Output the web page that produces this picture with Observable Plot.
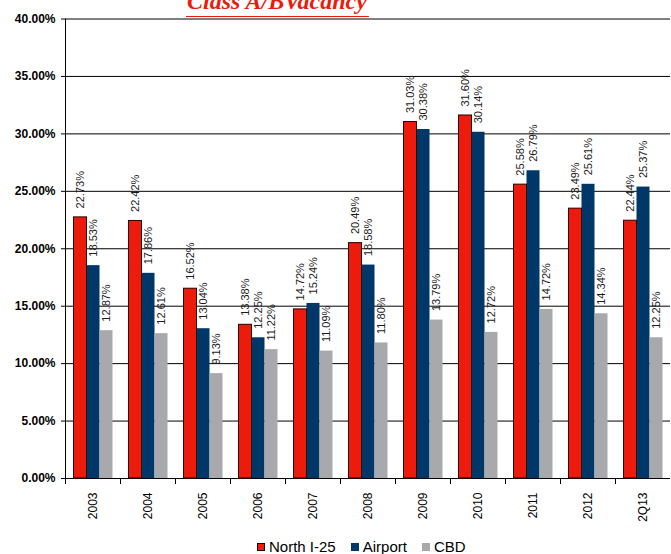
<!DOCTYPE html>
<html>
<head>
<meta charset="utf-8">
<script src="https://cdn.jsdelivr.net/npm/d3@7"></script>
<script src="https://cdn.jsdelivr.net/npm/@observablehq/plot@0.6"></script>
<style>
  html, body { margin: 0; padding: 0; background: #fff; }
  #wrap { position: relative; width: 671px; height: 554px; overflow: hidden; font-family: "Liberation Sans", Arial, sans-serif; }
  #title { position: absolute; left: 0; width: 554px; top: -11px; text-align: center; font-family: "Liberation Serif", "Times New Roman", serif; font-weight: bold; font-style: italic; font-size: 24px; line-height: 24px; color: #EC1B0B; white-space: nowrap; }
  #uline { position: absolute; left: 186px; width: 183px; top: 15.5px; height: 1.5px; background: #EC1B0B; }
  #chart { position: absolute; left: 0; top: 0; }
  #legend { position: absolute; left: 257px; top: 539px; display: flex; align-items: center; font-size: 15px; line-height: 15px; color: #000; white-space: nowrap; }
  #legend .item { display: flex; align-items: center; margin-right: 15px; }
  #legend .sw { width: 8px; height: 8px; margin-right: 4px; box-sizing: border-box; }
  #chart svg [aria-label="y-axis tick label"] text { font-weight: bold; }
</style>
</head>
<body>
<div id="wrap">
  <div id="chart"></div>
  <div id="title">Class A/BVacancy</div>
  <div id="uline"></div>
  <div id="legend"></div>
</div>
<script>
const years = ["2003", "2004", "2005", "2006", "2007", "2008", "2009", "2010", "2011", "2012", "2Q13"];
const northI25 = [22.73, 22.42, 16.52, 13.38, 14.72, 20.49, 31.03, 31.60, 25.58, 23.49, 22.44];
const airport = [18.53, 17.86, 13.04, 12.25, 15.24, 18.58, 30.38, 30.14, 26.79, 25.61, 25.37];
const cbd = [12.87, 12.61, 9.13, 11.22, 11.09, 11.80, 13.79, 12.72, 14.72, 14.34, 12.25];
const seriesNames = ["North I-25", "Airport", "CBD"];
const seriesColors = ["#EC1B0B", "#003769", "#A7A9AC"];
const yTicks = [0, 5, 10, 15, 20, 25, 30, 35, 40];

const seriesValues = [northI25, airport, cbd];
const data = years.flatMap((yr, i) =>
  seriesNames.map((s, j) => ({year: yr, series: s, value: seriesValues[j][i]}))
);

const W = 671, H = 532, mTop = 18.5, mBottom = 54, mLeft = 63.5, mRight = 0.5;
const plotH = H - mTop - mBottom;

const chart = Plot.plot({
  width: W,
  height: H,
  marginTop: mTop,
  marginBottom: mBottom,
  marginLeft: mLeft,
  marginRight: mRight,
  style: {fontFamily: "'Liberation Sans', Arial, sans-serif", background: "white"},
  fx: {domain: years, padding: 0, label: null},
  x: {domain: seriesNames, paddingInner: 0, paddingOuter: 0.49, axis: null},
  y: {domain: [0, 40], label: null},
  color: {domain: seriesNames, range: seriesColors},
  marks: [
    Plot.gridY(yTicks, {stroke: "#000", strokeOpacity: 1, strokeWidth: 1}),
    Plot.barY(data, {fx: "year", x: "series", y: "value", fill: "series"}),
    Plot.barY(data.filter(d => d.series === "North I-25"), {fx: "year", x: "series", y: "value", fill: "none", stroke: "#2a0000", strokeWidth: 1}),
    Plot.text(data, {fx: "year", x: "series", y: "value", text: d => d.value.toFixed(2) + "%", rotate: -90, textAnchor: "start", dy: -9, fontSize: 11, fill: "#1a1a1a"}),
    Plot.frame({anchor: "left", insetTop: plotH, insetBottom: -5, stroke: "#000"}),
    Plot.frame({anchor: "left", facetAnchor: "left", insetBottom: -5, stroke: "#000"}),
    Plot.axisY({ticks: yTicks, tickSize: 4, tickPadding: 6, fontSize: 12, tickFormat: d => d.toFixed(2) + "%", label: null, stroke: "#000", color: "#000"}),
    Plot.axisFx({anchor: "bottom", tickRotate: -90, tickSize: 0, tickPadding: 14, fontSize: 12, label: null, color: "#000"})
  ]
});
document.getElementById("chart").appendChild(chart);

const legend = document.getElementById("legend");
seriesNames.forEach((s, j) => {
  const item = document.createElement("div");
  item.className = "item";
  const sw = document.createElement("span");
  sw.className = "sw";
  sw.style.background = seriesColors[j];
  if (j === 0) sw.style.border = "1px solid #000";
  const t = document.createElement("span");
  t.textContent = s;
  item.appendChild(sw);
  item.appendChild(t);
  legend.appendChild(item);
});
</script>
</body>
</html>
